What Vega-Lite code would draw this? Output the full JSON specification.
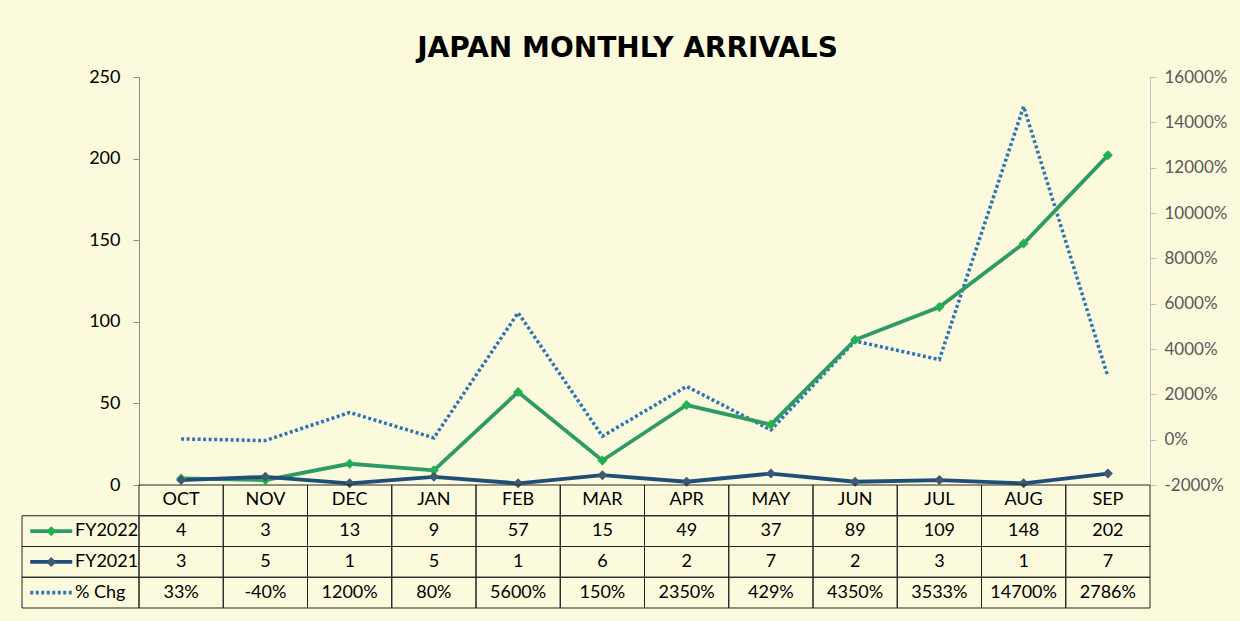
{
  "$schema": "https://vega.github.io/schema/vega-lite/v6.json",
  "width": 1011,
  "height": 531,
  "autosize": {"type": "none"},
  "padding": {"left": 139, "top": 77, "right": 90, "bottom": 13},
  "background": "#FCFADC",
  "config": {"view": {"stroke": null}, "font": "Lato", "locale": {"number": {"decimal": ".", "thousands": ",", "grouping": [3], "currency": ["$", ""], "minus": "-"}}},
  "title": {"text": "JAPAN MONTHLY ARRIVALS", "font": "DejaVu Sans", "fontWeight": "bold", "fontSize": 28, "color": "#000000", "anchor": "middle", "dx": -17, "offset": 5},
  "datasets": {
    "main": [
      {"month": "OCT", "FY2022": 4, "FY2021": 3, "pct": 0.3333},
      {"month": "NOV", "FY2022": 3, "FY2021": 5, "pct": -0.4},
      {"month": "DEC", "FY2022": 13, "FY2021": 1, "pct": 12},
      {"month": "JAN", "FY2022": 9, "FY2021": 5, "pct": 0.8},
      {"month": "FEB", "FY2022": 57, "FY2021": 1, "pct": 56},
      {"month": "MAR", "FY2022": 15, "FY2021": 6, "pct": 1.5},
      {"month": "APR", "FY2022": 49, "FY2021": 2, "pct": 23.5},
      {"month": "MAY", "FY2022": 37, "FY2021": 7, "pct": 4.2857},
      {"month": "JUN", "FY2022": 89, "FY2021": 2, "pct": 43.5},
      {"month": "JUL", "FY2022": 109, "FY2021": 3, "pct": 35.3333},
      {"month": "AUG", "FY2022": 148, "FY2021": 1, "pct": 147},
      {"month": "SEP", "FY2022": 202, "FY2021": 7, "pct": 27.8571}
    ],
    "legend": [
      {"key": "FY2022", "label": "FY2022"},
      {"key": "FY2021", "label": "FY2021"},
      {"key": "pct", "label": "% Chg"}
    ]
  },
  "resolve": {"scale": {"x": "independent", "y": "independent", "color": "independent", "strokeDash": "independent"}},
  "layer": [
    {
      "data": {"name": "main"},
      "mark": {"type": "line", "strokeWidth": 3.5, "strokeDash": [3, 2.5], "strokeCap": "butt", "color": "#2E75B6"},
      "encoding": {
        "x": {"field": "month", "type": "nominal", "sort": null, "scale": {"type": "point", "domain": ["OCT","NOV","DEC","JAN","FEB","MAR","APR","MAY","JUN","JUL","AUG","SEP"], "padding": 0.5}, "axis": null},
        "y": {"field": "pct", "type": "quantitative", "scale": {"domain": [-20, 160], "range": [408, 0], "nice": false, "zero": false}, "axis": {"orient": "right", "values": [-20,0,20,40,60,80,100,120,140,160], "format": ".0%", "title": null, "grid": false, "domainColor": "#BFBFBF", "tickColor": "#BFBFBF", "tickSize": 6, "labelPadding": 8, "labelFontSize": 17, "labelColor": "#595959", "labelFont": "Lato"}}
      }
    },
    {
      "data": {"name": "main"},
      "transform": [{"fold": ["FY2022", "FY2021"], "as": ["series", "value"]}],
      "mark": {"type": "line", "strokeWidth": 3.8},
      "encoding": {
        "x": {"field": "month", "type": "nominal", "sort": null, "scale": {"type": "point", "domain": ["OCT","NOV","DEC","JAN","FEB","MAR","APR","MAY","JUN","JUL","AUG","SEP"], "padding": 0.5}, "axis": null},
        "y": {"field": "value", "type": "quantitative", "scale": {"domain": [0, 250], "range": [408, 0], "nice": false}, "axis": {"orient": "left", "values": [0,50,100,150,200,250], "title": null, "grid": false, "domainColor": "#8C8C8C", "tickColor": "#8C8C8C", "tickSize": 6, "labelPadding": 13, "labelFontSize": 18, "labelColor": "#000000", "labelFont": "Lato"}},
        "color": {"field": "series", "type": "nominal", "scale": {"domain": ["FY2022", "FY2021"], "range": ["#2E9A66", "#1F4E79"]}, "legend": null}
      }
    },
    {
      "data": {"name": "main"},
      "transform": [{"fold": ["FY2022", "FY2021"], "as": ["series", "value"]}],
      "mark": {"type": "point", "shape": "diamond", "filled": true, "size": 100, "opacity": 1},
      "encoding": {
        "x": {"field": "month", "type": "nominal", "sort": null, "scale": {"type": "point", "domain": ["OCT","NOV","DEC","JAN","FEB","MAR","APR","MAY","JUN","JUL","AUG","SEP"], "padding": 0.5}, "axis": null},
        "y": {"field": "value", "type": "quantitative", "scale": {"domain": [0, 250], "range": [408, 0], "nice": false}, "axis": null},
        "color": {"field": "series", "type": "nominal", "scale": {"domain": ["FY2022", "FY2021"], "range": ["#22B050", "#3F5873"]}, "legend": null}
      }
    },
    {
      "data": {"name": "main"},
      "transform": [{"fold": ["month", "FY2022", "FY2021", "pct"], "as": ["row", "v"]}],
      "mark": {"type": "rect", "fill": "transparent", "stroke": "#222222", "strokeWidth": 1},
      "encoding": {
        "x": {"field": "month", "type": "nominal", "sort": null, "scale": {"type": "band", "domain": ["OCT","NOV","DEC","JAN","FEB","MAR","APR","MAY","JUN","JUL","AUG","SEP"], "paddingInner": 0, "paddingOuter": 0}, "axis": null},
        "y": {"field": "row", "type": "nominal", "sort": null, "scale": {"type": "band", "domain": ["month", "FY2022", "FY2021", "pct"], "range": [408, 531], "paddingInner": 0, "paddingOuter": 0}, "axis": null}
      }
    },
    {
      "data": {"name": "main"},
      "mark": {"type": "text", "fontSize": 18, "color": "#000000", "align": "center", "baseline": "middle"},
      "encoding": {
        "x": {"field": "month", "type": "nominal", "sort": null, "scale": {"type": "band", "domain": ["OCT","NOV","DEC","JAN","FEB","MAR","APR","MAY","JUN","JUL","AUG","SEP"], "paddingInner": 0, "paddingOuter": 0}, "axis": null},
        "y": {"datum": "month", "type": "nominal", "scale": {"type": "band", "domain": ["month", "FY2022", "FY2021", "pct"], "range": [408, 531], "paddingInner": 0, "paddingOuter": 0}, "axis": null},
        "text": {"field": "month", "type": "nominal"}
      }
    },
    {
      "data": {"name": "main"},
      "mark": {"type": "text", "fontSize": 18, "color": "#000000", "align": "center", "baseline": "middle"},
      "encoding": {
        "x": {"field": "month", "type": "nominal", "sort": null, "scale": {"type": "band", "domain": ["OCT","NOV","DEC","JAN","FEB","MAR","APR","MAY","JUN","JUL","AUG","SEP"], "paddingInner": 0, "paddingOuter": 0}, "axis": null},
        "y": {"datum": "FY2022", "type": "nominal", "scale": {"type": "band", "domain": ["month", "FY2022", "FY2021", "pct"], "range": [408, 531], "paddingInner": 0, "paddingOuter": 0}, "axis": null},
        "text": {"field": "FY2022", "type": "quantitative", "format": "d"}
      }
    },
    {
      "data": {"name": "main"},
      "mark": {"type": "text", "fontSize": 18, "color": "#000000", "align": "center", "baseline": "middle"},
      "encoding": {
        "x": {"field": "month", "type": "nominal", "sort": null, "scale": {"type": "band", "domain": ["OCT","NOV","DEC","JAN","FEB","MAR","APR","MAY","JUN","JUL","AUG","SEP"], "paddingInner": 0, "paddingOuter": 0}, "axis": null},
        "y": {"datum": "FY2021", "type": "nominal", "scale": {"type": "band", "domain": ["month", "FY2022", "FY2021", "pct"], "range": [408, 531], "paddingInner": 0, "paddingOuter": 0}, "axis": null},
        "text": {"field": "FY2021", "type": "quantitative", "format": "d"}
      }
    },
    {
      "data": {"name": "main"},
      "mark": {"type": "text", "fontSize": 18, "color": "#000000", "align": "center", "baseline": "middle"},
      "encoding": {
        "x": {"field": "month", "type": "nominal", "sort": null, "scale": {"type": "band", "domain": ["OCT","NOV","DEC","JAN","FEB","MAR","APR","MAY","JUN","JUL","AUG","SEP"], "paddingInner": 0, "paddingOuter": 0}, "axis": null},
        "y": {"datum": "pct", "type": "nominal", "scale": {"type": "band", "domain": ["month", "FY2022", "FY2021", "pct"], "range": [408, 531], "paddingInner": 0, "paddingOuter": 0}, "axis": null},
        "text": {"field": "pct", "type": "quantitative", "format": ".0%"}
      }
    },
    {
      "data": {"name": "legend"},
      "mark": {"type": "rect", "fill": "transparent", "stroke": "#222222", "strokeWidth": 1},
      "encoding": {
        "x": {"datum": "lbl", "type": "nominal", "scale": {"type": "band", "domain": ["lbl"], "range": [-117, 0], "paddingInner": 0, "paddingOuter": 0}, "axis": null},
        "y": {"field": "key", "type": "nominal", "sort": null, "scale": {"type": "band", "domain": ["month", "FY2022", "FY2021", "pct"], "range": [408, 531], "paddingInner": 0, "paddingOuter": 0}, "axis": null}
      }
    },
    {
      "data": {"name": "legend"},
      "mark": {"type": "point", "shape": "M-1,0L1,0", "filled": false, "size": 1764, "strokeWidth": 3.8, "strokeCap": "butt", "opacity": 1},
      "encoding": {
        "x": {"datum": "sym", "type": "nominal", "scale": {"type": "band", "domain": ["sym", "txt"], "range": [-117, 0], "paddingInner": 0, "paddingOuter": 0}, "axis": null},
        "y": {"field": "key", "type": "nominal", "sort": null, "scale": {"type": "band", "domain": ["month", "FY2022", "FY2021", "pct"], "range": [408, 531], "paddingInner": 0, "paddingOuter": 0}, "axis": null},
        "color": {"field": "key", "type": "nominal", "scale": {"domain": ["FY2022", "FY2021", "pct"], "range": ["#2E9A66", "#1F4E79", "#2E75B6"]}, "legend": null},
        "strokeDash": {"field": "key", "type": "nominal", "scale": {"domain": ["FY2022", "FY2021", "pct"], "range": [[1, 0], [1, 0], [3, 2.5]]}, "legend": null}
      }
    },
    {
      "data": {"name": "legend"},
      "transform": [{"filter": "datum.key !== 'pct'"}],
      "mark": {"type": "point", "shape": "diamond", "filled": true, "size": 100, "opacity": 1},
      "encoding": {
        "x": {"datum": "sym", "type": "nominal", "scale": {"type": "band", "domain": ["sym", "txt"], "range": [-117, 0], "paddingInner": 0, "paddingOuter": 0}, "axis": null},
        "y": {"field": "key", "type": "nominal", "sort": null, "scale": {"type": "band", "domain": ["month", "FY2022", "FY2021", "pct"], "range": [408, 531], "paddingInner": 0, "paddingOuter": 0}, "axis": null},
        "color": {"field": "key", "type": "nominal", "scale": {"domain": ["FY2022", "FY2021"], "range": ["#22B050", "#3F5873"]}, "legend": null}
      }
    },
    {
      "data": {"name": "legend"},
      "mark": {"type": "text", "fontSize": 18, "color": "#000000", "align": "left", "baseline": "middle", "dx": -34.75},
      "encoding": {
        "x": {"datum": "txt", "type": "nominal", "scale": {"type": "band", "domain": ["sym", "txt"], "range": [-117, 0], "paddingInner": 0, "paddingOuter": 0}, "axis": null},
        "y": {"field": "key", "type": "nominal", "sort": null, "scale": {"type": "band", "domain": ["month", "FY2022", "FY2021", "pct"], "range": [408, 531], "paddingInner": 0, "paddingOuter": 0}, "axis": null},
        "text": {"field": "label", "type": "nominal"}
      }
    }
  ]
}
